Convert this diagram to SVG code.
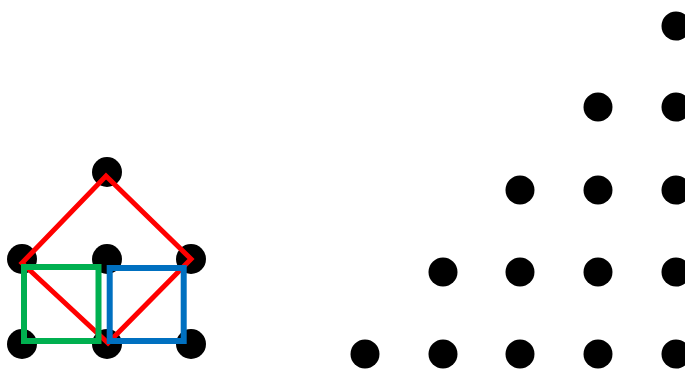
<svg xmlns="http://www.w3.org/2000/svg" width="685" height="369" viewBox="0 0 685 369">
<style>
.dot{fill:#000}
.red{fill:none;stroke:#FF0000;stroke-width:5;stroke-linejoin:miter}
.sq{fill:none;stroke-width:6}
</style>
<rect width="685" height="369" fill="#fff"/>
<g id="left-dots">
<circle class="dot" cx="107" cy="172" r="15"/>
<circle class="dot" cx="22" cy="259" r="15"/>
<circle class="dot" cx="107" cy="259" r="15"/>
<circle class="dot" cx="191" cy="259" r="15"/>
<circle class="dot" cx="22" cy="344" r="15"/>
<circle class="dot" cx="107" cy="344" r="15"/>
<circle class="dot" cx="191" cy="344" r="15"/>
</g>
<g id="red-square">
<polygon class="red" points="22,263 106,176 191,259 108,343"/>
</g>
<g id="green-square">
<rect class="sq" x="24" y="267" width="74.5" height="74" stroke="#00B050"/>
</g>
<g id="blue-square">
<rect class="sq" x="109.7" y="268" width="74" height="73" stroke="#0070C0"/>
</g>
<g id="right-dots">
<circle class="dot" cx="676" cy="26" r="14.5"/>
<circle class="dot" cx="598" cy="107" r="14.5"/>
<circle class="dot" cx="676" cy="107" r="14.5"/>
<circle class="dot" cx="520" cy="190" r="14.5"/>
<circle class="dot" cx="598" cy="190" r="14.5"/>
<circle class="dot" cx="676" cy="190" r="14.5"/>
<circle class="dot" cx="443" cy="272" r="14.5"/>
<circle class="dot" cx="520" cy="272" r="14.5"/>
<circle class="dot" cx="598" cy="272" r="14.5"/>
<circle class="dot" cx="676" cy="272" r="14.5"/>
<circle class="dot" cx="365" cy="354" r="14.5"/>
<circle class="dot" cx="443" cy="354" r="14.5"/>
<circle class="dot" cx="520" cy="354" r="14.5"/>
<circle class="dot" cx="598" cy="354" r="14.5"/>
<circle class="dot" cx="676" cy="354" r="14.5"/>
</g>
</svg>
